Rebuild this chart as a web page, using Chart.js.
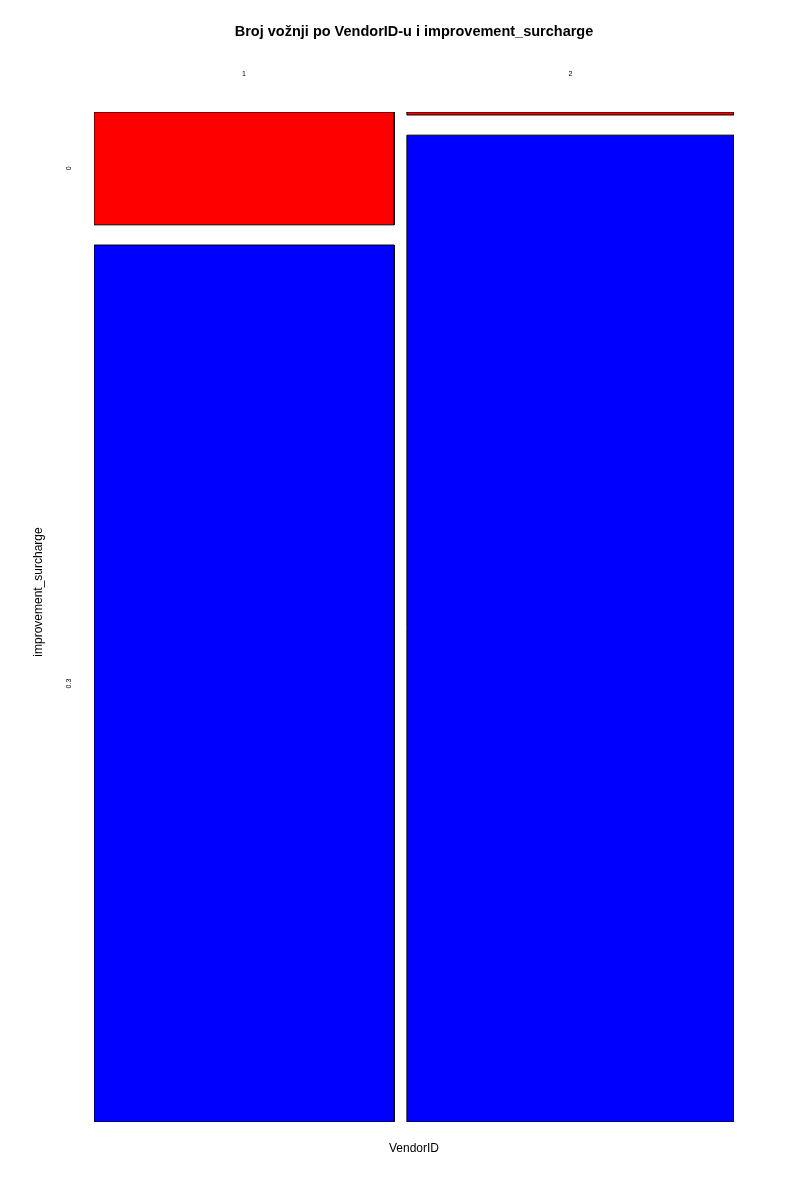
<!DOCTYPE html>
<html>
<head>
<meta charset="utf-8">
<script src="https://cdn.jsdelivr.net/npm/chart.js@4/dist/chart.umd.min.js"></script>
<style>
  html, body { margin: 0; padding: 0; background: #ffffff; }
  #wrap { width: 800px; height: 1200px; }
</style>
</head>
<body>
<div id="wrap"><canvas id="c" width="800" height="1200"></canvas></div>
<script>
// ---- data (proportions read from the mosaic) ----
const vendors = ['1', '2'];                 // VendorID categories
const vendorShare = [0.4785, 0.5215];       // share of trips per vendor
const surchargeLevels = ['0', '0.3'];       // improvement_surcharge categories
const surchargeShareV1 = [0.114, 0.886];    // within vendor 1
const surchargeShareV2 = [0.003, 0.997];    // within vendor 2
const levelColors = ['#FF0000', '#0000FF'];
const titleText = 'Broj vožnji po VendorID-u i improvement_surcharge';

const GAP = 0.02; // spacing between tiles, in axis units

// build tiles from the data
const withinShares = [surchargeShareV1, surchargeShareV2];
const datasets = [];
const xCenters = [];
const yCentersV1 = [];
let x = 0;
for (let i = 0; i < vendors.length; i++) {
  const w = vendorShare[i] * (1 - GAP * (vendors.length - 1));
  const x0 = x, x1 = x + w;
  xCenters.push((x0 + x1) / 2);
  let y = 0;
  const shares = withinShares[i];
  for (let j = 0; j < shares.length; j++) {
    const h = shares[j] * (1 - GAP * (shares.length - 1));
    const y0 = y, y1 = y + h;
    if (i === 0) yCentersV1.push((y0 + y1) / 2);
    datasets.push({
      label: 'Vendor ' + vendors[i] + ' / ' + surchargeLevels[j],
      data: [{x: x0, y: y0}, {x: x1, y: y0}, {x: x1, y: y1}, {x: x0, y: y1}, {x: x0, y: y0}],
      showLine: true,
      fill: 'shape',
      backgroundColor: levelColors[j],
      borderColor: '#000000',
      borderWidth: 1,
      pointRadius: 0,
      tension: 0
    });
    y = y1 + GAP;
  }
  x = x1 + GAP;
}

const fontFam = '"Liberation Sans", Arial, Helvetica, sans-serif';
const NB = '\u00A0';

new Chart(document.getElementById('c'), {
  type: 'scatter',
  data: { datasets },
  options: {
    responsive: false,
    animation: false,
    layout: { padding: { left: 28, right: 0, top: 0, bottom: 0 } },
    plugins: {
      legend: { display: false },
      tooltip: { enabled: false },
      title: {
        display: true,
        text: titleText,
        color: '#000',
        font: { family: fontFam, size: 14.5, weight: 'bold', lineHeight: 1.2 },
        padding: { top: 23, bottom: 0.6 }
      }
    },
    scales: {
      x: {
        type: 'linear',
        position: 'top',
        min: 0, max: 1,
        grid: { display: false, drawTicks: false },
        border: { display: false },
        afterBuildTicks: s => { s.ticks = xCenters.map(v => ({ value: v })); },
        ticks: {
          color: '#000',
          font: { family: fontFam, size: 7 },
          padding: 34,
          maxRotation: 0,
          callback: (v, i) => vendors[i]
        },
        afterFit: s => { s.height = 71; }
      },
      x2: {
        type: 'linear',
        position: 'bottom',
        min: 0, max: 1,
        grid: { display: false, drawTicks: false },
        border: { display: false },
        ticks: { display: false },
        title: {
          display: true,
          text: 'VendorID',
          color: '#000',
          font: { family: fontFam, size: 12, lineHeight: 1.2 },
          padding: { top: 0, bottom: 44 }
        },
        afterFit: s => { s.height = 78; }
      },
      y: {
        type: 'linear',
        position: 'left',
        reverse: true,
        min: 0, max: 1,
        grid: { display: false, drawTicks: false },
        border: { display: false },
        afterBuildTicks: s => { s.ticks = yCentersV1.map(v => ({ value: v })); },
        ticks: {
          color: '#000',
          font: { family: fontFam, size: 7 },
          minRotation: 90,
          maxRotation: 90,
          crossAlign: 'center',
          padding: 20,
          callback: (v, i) => surchargeLevels[i]
        },
        title: {
          display: true,
          text: NB.repeat(15) + 'improvement_surcharge',
          color: '#000',
          font: { family: fontFam, size: 12, lineHeight: 1.2 },
          padding: { top: 3, bottom: 0 }
        },
        afterFit: s => { s.width = 66; }
      },
      y2: {
        type: 'linear',
        position: 'right',
        min: 0, max: 1,
        grid: { display: false, drawTicks: false },
        border: { display: false },
        ticks: { display: false },
        afterFit: s => { s.width = 66; }
      }
    }
  }
});
</script>
</body>
</html>
